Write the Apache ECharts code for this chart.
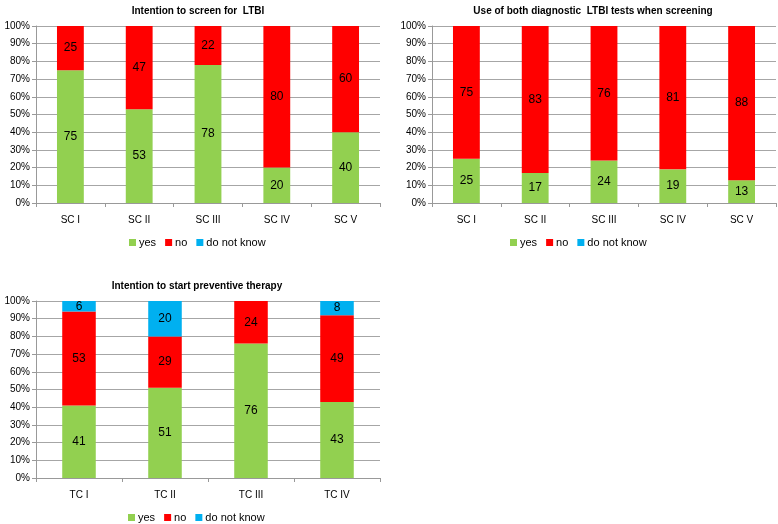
<!DOCTYPE html>
<html><head><meta charset="utf-8">
<script src="https://cdn.jsdelivr.net/npm/echarts@6/dist/echarts.min.js"></script>
<style>html,body{margin:0;padding:0;background:#fff}#c{width:778px;height:524px}</style>
</head><body><div id="c"></div>
<script>
const seriesNames = ['yes', 'no', 'do not know'];
const colors = ['#92D050', '#FF0000', '#00B0F0'];

const titles = ['Intention to screen for  LTBI', 'Use of both diagnostic  LTBI tests when screening', 'Intention to start preventive therapy'];

const cat1 = ['SC I', 'SC II', 'SC III', 'SC IV', 'SC V'];
const yes1 = [75, 53, 78, 20, 40];
const no1 = [25, 47, 22, 80, 60];
const dk1 = [0, 0, 0, 0, 0];

const cat2 = ['SC I', 'SC II', 'SC III', 'SC IV', 'SC V'];
const yes2 = [25, 17, 24, 19, 13];
const no2 = [75, 83, 76, 81, 88];
const dk2 = [0, 0, 0, 0, 0];

const cat3 = ['TC I', 'TC II', 'TC III', 'TC IV'];
const yes3 = [41, 51, 76, 43];
const no3 = [53, 29, 24, 49];
const dk3 = [6, 20, 0, 8];

const yTicks = [0, 10, 20, 30, 40, 50, 60, 70, 80, 90, 100];

const FONT = 'Liberation Sans';
const panels = [
  {cats: cat1, vals: [yes1, no1, dk1], grid: {left: 36, width: 344, top: 26, height: 177}, title: [193, 1], legend: [129, 237]},
  {cats: cat2, vals: [yes2, no2, dk2], grid: {left: 432, width: 344, top: 26, height: 177}, title: [588, 1], legend: [510, 237]},
  {cats: cat3, vals: [yes3, no3, dk3], grid: {left: 36, width: 344, top: 301, height: 177}, title: [192, 276], legend: [128, 512]}
];

const option = {
  backgroundColor: '#fff',
  animation: false,
  textStyle: {fontFamily: FONT},
  title: [], legend: [], grid: [], xAxis: [], yAxis: [], series: []
};

panels.forEach((p, i) => {
  option.title.push({text: titles[i], left: p.title[0], top: p.title[1], textAlign: 'center',
    textStyle: {fontFamily: FONT, fontSize: 10, fontWeight: 'bold', color: '#000'}});
  option.legend.push({data: seriesNames, left: p.legend[0], top: p.legend[1], padding: 0,
    itemWidth: 7, itemHeight: 7, itemGap: 9, icon: 'rect',
    textStyle: {fontFamily: FONT, fontSize: 11, color: '#000', padding: [0, 0, 0, -2]}});
  option.grid.push(Object.assign({containLabel: false}, p.grid));
  option.xAxis.push({type: 'category', gridIndex: i, data: p.cats, boundaryGap: true,
    axisLine: {lineStyle: {color: '#999'}}, axisTick: {show: true, interval: 0, length: 4, lineStyle: {color: '#999'}},
    axisLabel: {color: '#000', fontSize: 10, fontFamily: FONT, margin: 12}});
  option.yAxis.push({type: 'value', gridIndex: i, min: 0, max: 100, interval: 10,
    axisLine: {show: true, lineStyle: {color: '#999'}}, axisTick: {show: true, length: 4, lineStyle: {color: '#999'}},
    splitLine: {lineStyle: {color: '#A6A6A6'}},
    axisLabel: {color: '#000', fontSize: 10, fontFamily: FONT, margin: 6, formatter: '{value}%'}});
  const totals = p.cats.map((c, k) => p.vals.reduce((s, arr) => s + arr[k], 0));
  p.vals.forEach((arr, j) => {
    option.series.push({
      name: seriesNames[j], type: 'bar', stack: 'g' + i, xAxisIndex: i, yAxisIndex: i,
      barWidth: '39%', itemStyle: {color: colors[j]},
      data: arr.map((v, k) => ({value: v / totals[k] * 100, raw: v})),
      label: {show: true, position: 'inside', color: '#000', fontSize: 12, fontFamily: FONT,
        formatter: (prm) => prm.data.raw ? String(prm.data.raw) : ''}
    });
  });
});

const chart = echarts.init(document.getElementById('c'), null, {renderer: 'canvas'});
chart.setOption(option);
</script></body></html>
